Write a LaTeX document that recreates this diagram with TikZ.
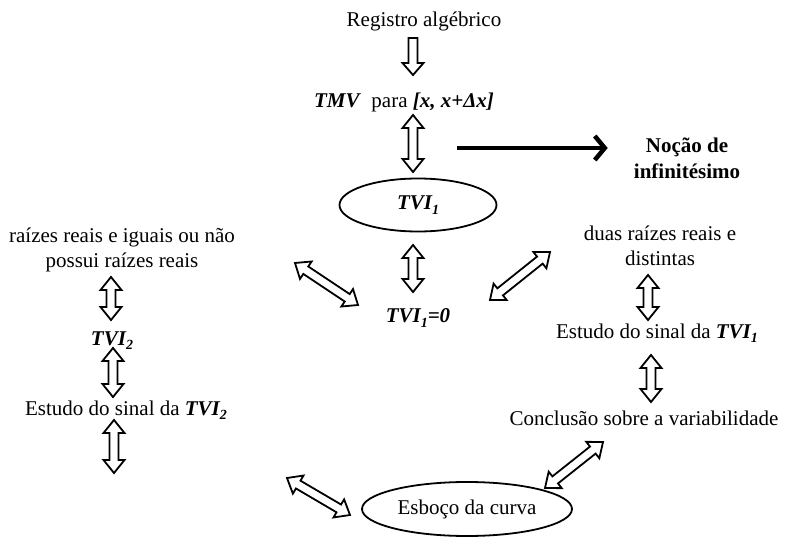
\documentclass[tikz,border=0pt]{standalone}
\usepackage{fontspec}
\setmainfont{Liberation Serif}
\usepackage{tikz}
\usetikzlibrary{arrows.meta,calc,shapes.geometric}

\newcommand{\bi}[1]{\textbf{\textit{#1}}}
\newcommand{\lowsub}[1]{\raisebox{-0.45ex}{\fontsize{14}{14}\selectfont #1}}
\newcommand{\arrlen}{13pt}
\newcommand{\arrhead}{10.5pt}
\newcommand{\arrshaft}{4.5pt}

% hollow double-headed block arrow between two coordinates
\newcommand{\dblarrow}[2]{%
  \coordinate (ha) at ($(#1)!\arrlen!(#2)$);
  \coordinate (hb) at ($(#2)!\arrlen!(#1)$);
  \draw[blockarrow] (#1) -- ($(ha)!\arrhead!90:(#2)$) -- ($(ha)!\arrshaft!90:(#2)$)
    -- ($(hb)!\arrshaft!-90:(#1)$) -- ($(hb)!\arrhead!-90:(#1)$) -- (#2)
    -- ($(hb)!\arrhead!90:(#1)$) -- ($(hb)!\arrshaft!90:(#1)$)
    -- ($(ha)!\arrshaft!-90:(#2)$) -- ($(ha)!\arrhead!-90:(#2)$) -- cycle;}

% hollow single-headed block arrow
\newcommand{\onearrow}[2]{%
  \coordinate (hb) at ($(#2)!12pt!(#1)$);
  \draw[blockarrow] ($(#1)!\arrshaft!90:(#2)$) -- ($(hb)!\arrshaft!-90:(#1)$)
    -- ($(hb)!\arrhead!-90:(#1)$) -- (#2) -- ($(hb)!\arrhead!90:(#1)$)
    -- ($(hb)!\arrshaft!90:(#1)$) -- ($(#1)!\arrshaft!-90:(#2)$) -- cycle;}

\begin{document}
\begin{tikzpicture}[
  x=1pt, y=-1pt,
  every node/.style={font=\fontsize{21}{25}\selectfont, inner sep=0pt},
  txt/.style={align=center},
  oval/.style={ellipse, draw, line width=1.8pt},
  blockarrow/.style={draw, line width=1.8pt, fill=white, line join=miter},
  bigarrow/.style={-{Straight Barb[length=10pt,width=24pt]}, line width=4.5pt}
]
  \useasboundingbox (0,0) rectangle (787,537);

  \node[anchor=base] (reg) at (424,27) {Registro algébrico};
  \node[anchor=base] (tmv) at (404,108) {\bi{TMV}\ \ para \bi{[x, x+Δx]}};
  \node[oval, minimum width=157pt, minimum height=53pt] (tvia) at (418,205) {\bi{TVI\lowsub{1}}};
  \node[txt, font=\fontsize{21}{26}\selectfont\bfseries] (nocao) at (687,158) {Noção de\\infinitésimo};
  \node[anchor=base] (zero) at (418,323) {\bi{TVI\lowsub{1}=0}};

  \node[txt] (raiz2) at (122,250) {raízes reais e iguais ou não\\possui raízes reais};
  \node[anchor=base] (tvib) at (112,345) {\bi{TVI\lowsub{2}}};
  \node[anchor=base] (est2) at (126,415) {Estudo do sinal da \bi{TVI\lowsub{2}}};

  \node[txt] (raiz1) at (660,246) {duas raízes reais e\\distintas};
  \node[anchor=base] (est1) at (657,338) {Estudo do sinal da \bi{TVI\lowsub{1}}};
  \node[anchor=base] (concl) at (644,425) {Conclusão sobre a variabilidade};

  \node[oval, minimum width=210pt, minimum height=54pt] (esb) at (467,509) {Esboço da curva};

  % arrow ends
  \coordinate (a1s) at (413,38);  \coordinate (a1e) at (413,75);
  \coordinate (a2s) at (413,115); \coordinate (a2e) at (413,172);
  \coordinate (a3s) at (413,245); \coordinate (a3e) at (413,292);
  \coordinate (a4s) at (111,277); \coordinate (a4e) at (111,320);
  \coordinate (a5s) at (113,348); \coordinate (a5e) at (113,397);
  \coordinate (a6s) at (114,420); \coordinate (a6e) at (114,473);
  \coordinate (a7s) at (295,263); \coordinate (a7e) at (358,305);
  \coordinate (a8s) at (490,300); \coordinate (a8e) at (550,252);
  \coordinate (a9s) at (648,275); \coordinate (a9e) at (648,320);
  \coordinate (a10s) at (651,355); \coordinate (a10e) at (651,402);
  \coordinate (a11s) at (545,488); \coordinate (a11e) at (603,442);
  \coordinate (a12s) at (287,478); \coordinate (a12e) at (350,515);
  \coordinate (th) at (457,148);

  \onearrow{a1s}{a1e}
  \foreach \i in {2,...,12} {\dblarrow{a\i s}{a\i e}}

  \draw[bigarrow, shorten >=26pt] (th) -- (th -| nocao.west);

\end{tikzpicture}
\end{document}
